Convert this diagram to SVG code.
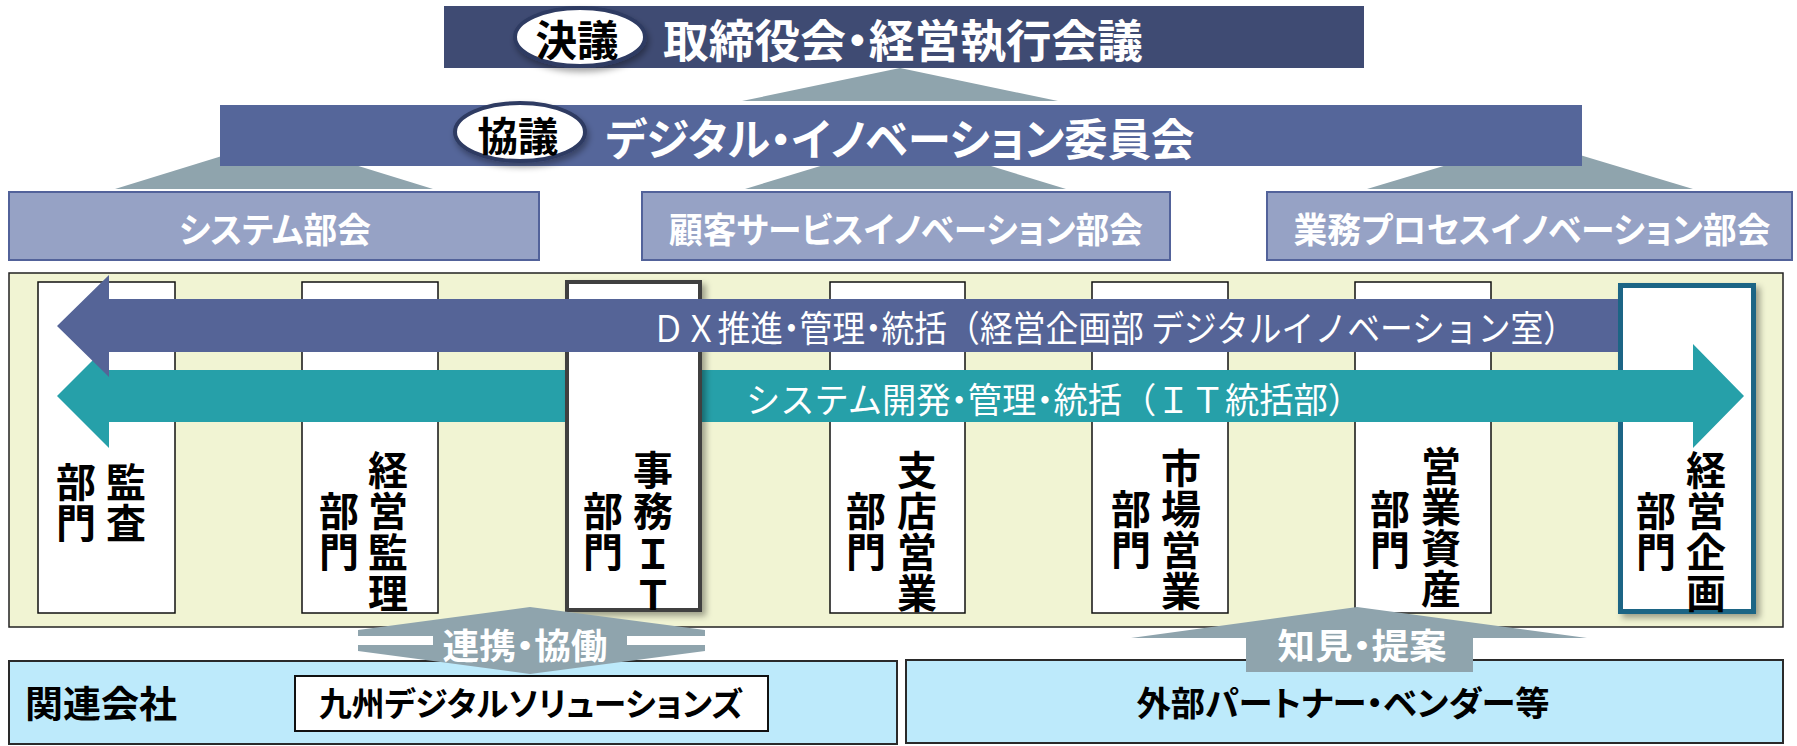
<svg xmlns="http://www.w3.org/2000/svg" width="1797" height="746" viewBox="0 0 1797 746">
<defs>
<filter id="sh" x="-20%" y="-20%" width="140%" height="150%"><feDropShadow dx="2" dy="4" stdDeviation="3" flood-color="#000" flood-opacity="0.35"/></filter>
<filter id="sh2" x="-10%" y="-5%" width="130%" height="115%"><feDropShadow dx="4" dy="4" stdDeviation="3" flood-color="#000" flood-opacity="0.35"/></filter>
</defs>
<style>
text{font-family:"Noto Sans CJK JP","Noto Sans CJK SC",sans-serif;dominant-baseline:central;text-anchor:middle}
.h,.d{font-feature-settings:"palt"}
.w{fill:#fff;font-weight:700}
.b{fill:#000;font-weight:700}
.r{fill:#fff;font-weight:400}
.col{fill:#fff;stroke:#111;stroke-width:1.5}
.tri{fill:#8FA4AD}
.sub{fill:#96A2C5;stroke:#52629A;stroke-width:2}
.blue{fill:#BDEAFB;stroke:#2a2a2a;stroke-width:2}
.v{font-size:40px}
.ov{fill:#fff;stroke:#2F3B62;stroke-width:4}
</style>

<g id="connectors">
<polygon class="tri" points="742,101 900,68 1058,101"/>
<polygon class="tri" points="115,189 274,140 433,189"/>
<polygon class="tri" points="745,189 906,140 1066,189"/>
<polygon class="tri" points="1367,189 1530,140 1693,189"/>
</g>

<g id="board">
<rect x="444" y="6" width="920" height="62" fill="#3F4B73"/>
<text class="w h" x="903" y="38" font-size="45" textLength="480" lengthAdjust="spacingAndGlyphs">取締役会・経営執行会議</text>
<g id="ketsugi" filter="url(#sh)">
<ellipse class="ov" cx="580" cy="37" rx="65" ry="29"/>
</g>
<text class="b h" x="577" y="37" font-size="42" textLength="83" lengthAdjust="spacingAndGlyphs">決議</text>
</g>

<g id="committee">
<rect x="220" y="105" width="1362" height="61" fill="#55669A"/>
<text class="w h" x="900" y="137" font-size="44" textLength="589" lengthAdjust="spacingAndGlyphs">デジタル・イノベーション委員会</text>
<g filter="url(#sh)">
<ellipse class="ov" cx="520" cy="132" rx="65" ry="29"/>
</g>
<text class="b h" x="518" y="134" font-size="40" textLength="81" lengthAdjust="spacingAndGlyphs">協議</text>
</g>

<g id="sub1"><rect class="sub" x="9" y="192" width="530" height="68"/>
<text class="w h" x="275" y="227" font-size="35" textLength="192" lengthAdjust="spacingAndGlyphs">システム部会</text></g>
<g id="sub2"><rect class="sub" x="642" y="192" width="528" height="68"/>
<text class="w h" x="906" y="227" font-size="35" textLength="474" lengthAdjust="spacingAndGlyphs">顧客サービスイノベーション部会</text></g>
<g id="sub3"><rect class="sub" x="1267" y="192" width="525" height="68"/>
<text class="w h" x="1532" y="227" font-size="35" textLength="477" lengthAdjust="spacingAndGlyphs">業務プロセスイノベーション部会</text></g>

<g id="panel"><rect x="9" y="273" width="1774" height="354" fill="#F1F4D3" stroke="#222" stroke-width="1.5"/></g>

<g id="col1"><rect class="col" x="38" y="282" width="137" height="331"/>
<text class="b v" x="76" y="480">部</text><text class="b v" x="76" y="521">門</text>
<text class="b v" x="126" y="480">監</text><text class="b v" x="126" y="521">査</text></g>

<g id="col2"><rect class="col" x="302" y="282" width="136" height="331"/>
<text class="b v" x="339" y="509">部</text><text class="b v" x="339" y="550">門</text>
<text class="b v" x="388" y="468">経</text><text class="b v" x="388" y="509">営</text><text class="b v" x="388" y="550">監</text><text class="b v" x="388" y="591">理</text></g>

<g id="col4"><rect class="col" x="830" y="282" width="135" height="331"/>
<text class="b v" x="866" y="509">部</text><text class="b v" x="866" y="550">門</text>
<text class="b v" x="917" y="468">支</text><text class="b v" x="917" y="509">店</text><text class="b v" x="917" y="550">営</text><text class="b v" x="917" y="591">業</text></g>

<g id="col5"><rect class="col" x="1092" y="282" width="136" height="331"/>
<text class="b v" x="1131" y="507">部</text><text class="b v" x="1131" y="548">門</text>
<text class="b v" x="1181" y="466">市</text><text class="b v" x="1181" y="507">場</text><text class="b v" x="1181" y="548">営</text><text class="b v" x="1181" y="589">業</text></g>

<g id="col6"><rect class="col" x="1355" y="282" width="136" height="331"/>
<text class="b v" x="1390" y="507">部</text><text class="b v" x="1390" y="548">門</text>
<text class="b v" x="1441" y="464">営</text><text class="b v" x="1441" y="505">業</text><text class="b v" x="1441" y="546">資</text><text class="b v" x="1441" y="587">産</text></g>

<g id="col7"><rect x="1620.5" y="285.5" width="133" height="326" fill="#fff" stroke="#1E6585" stroke-width="5" filter="url(#sh2)"/>
<text class="b v" x="1656" y="509">部</text><text class="b v" x="1656" y="550">門</text>
<text class="b v" x="1706" y="468">経</text><text class="b v" x="1706" y="509">営</text><text class="b v" x="1706" y="550">企</text><text class="b v" x="1706" y="591">画</text></g>

<g id="arrow-system">
<polygon fill="#26A0A9" points="109,370 1693,370 1693,344 1744,396 1693,448 1693,422 109,422 109,448 57,396 109,344"/>
<text class="r" x="1054" y="397" font-size="35" textLength="616" lengthAdjust="spacingAndGlyphs">システム開発<tspan class="d">・</tspan>管理<tspan class="d">・</tspan>統括（ＩＴ統括部）</text>
</g>

<g id="col3"><rect x="567" y="282" width="133" height="328" fill="#fff" stroke="#404040" stroke-width="4" filter="url(#sh2)"/>
<text class="b v" x="603" y="509">部</text><text class="b v" x="603" y="550">門</text>
<text class="b v" x="653" y="468">事</text><text class="b v" x="653" y="509">務</text><text class="b v" x="653" y="552">Ｉ</text><text class="b v" x="653" y="593">Ｔ</text></g>

<g id="arrow-dx">
<polygon fill="#556497" points="1618,299 109,299 109,275 57,326 109,377 109,352 1618,352"/>
<text class="r" x="1114" y="326" font-size="36" textLength="924" lengthAdjust="spacingAndGlyphs">ＤＸ推進<tspan class="d">・</tspan>管理<tspan class="d">・</tspan>統括（経営企画部 デジタルイノベーション室）</text>
</g>

<g id="kanren"><rect class="blue" x="9" y="661" width="888" height="83"/>
<text class="b h" x="101" y="702" font-size="37" textLength="152" lengthAdjust="spacingAndGlyphs">関連会社</text>
<rect x="295" y="676" width="473" height="55" fill="#fff" stroke="#111" stroke-width="2"/>
<text class="b h" x="531" y="702" font-size="33" textLength="424" lengthAdjust="spacingAndGlyphs">九州デジタルソリューションズ</text></g>

<g id="partner"><rect class="blue" x="906" y="660" width="877" height="83"/>
<text class="b h" x="1343" y="701" font-size="34" textLength="413" lengthAdjust="spacingAndGlyphs">外部パートナー・ベンダー等</text></g>

<g id="arrow-collab">
<polygon class="tri" points="530,607 705,630 705,636 627,636 627,645 705,645 705,651 530,674 358,651 358,645 433,645 433,636 358,636 358,630"/>
<text class="w h" x="525" y="643" font-size="35" textLength="165" lengthAdjust="spacingAndGlyphs">連携・協働</text>
</g>
<g id="arrow-insight">
<polygon class="tri" points="1357,607 1587,638 1473,638 1473,672 1246,672 1246,638 1131,638"/>
<text class="w h" x="1362" y="643" font-size="35" textLength="169" lengthAdjust="spacingAndGlyphs">知見・提案</text>
</g>
</svg>
